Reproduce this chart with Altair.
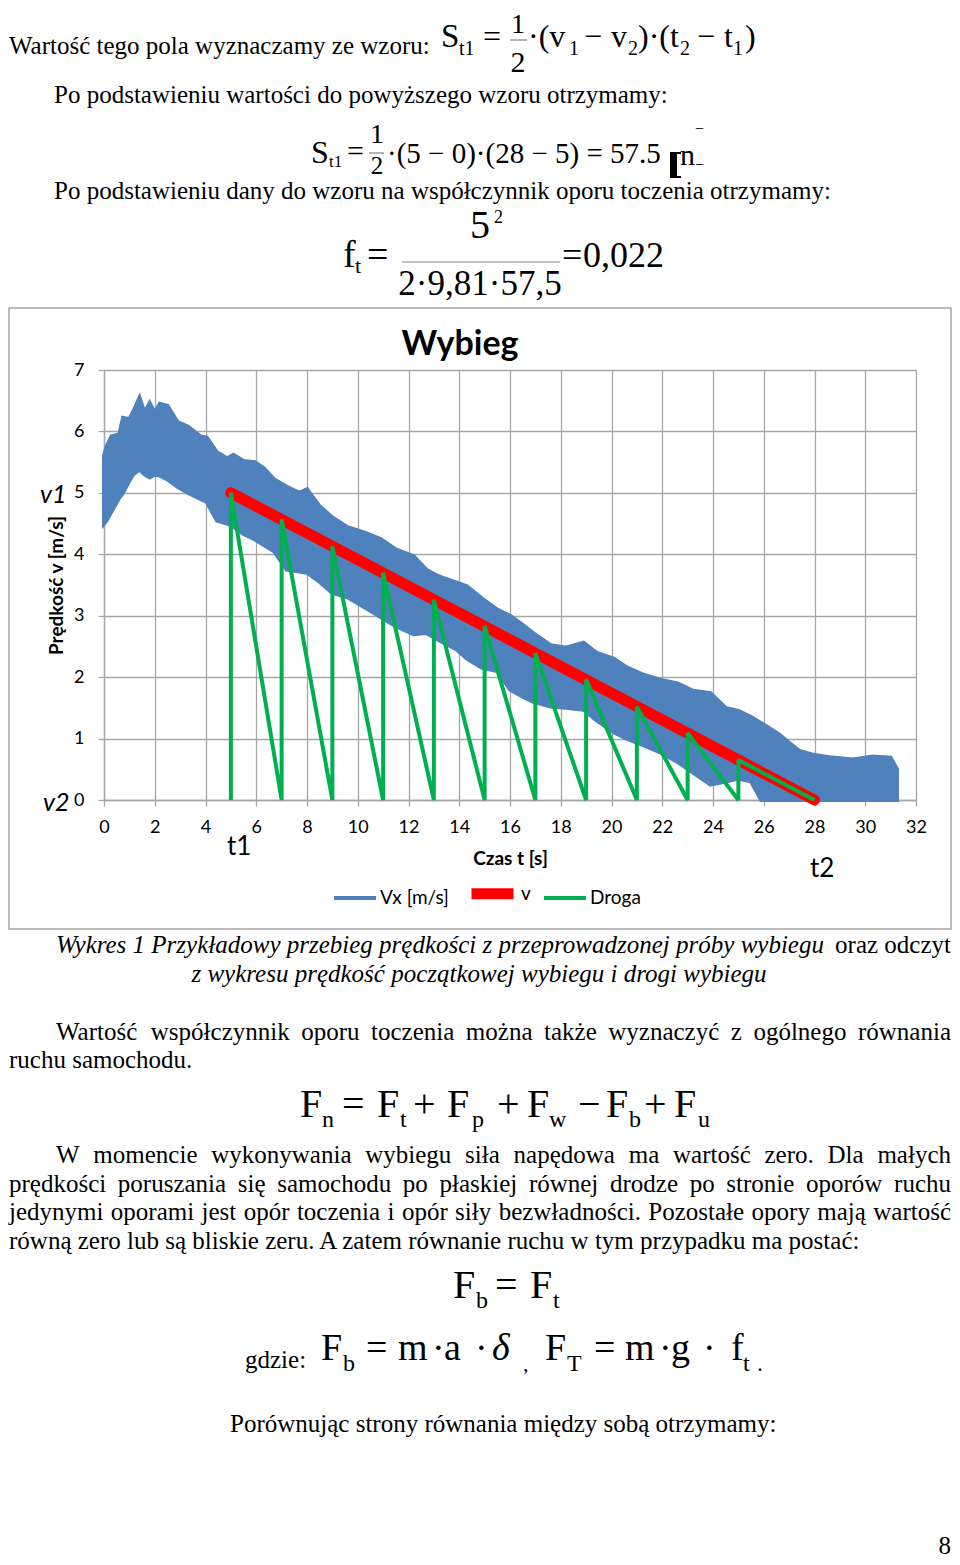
import altair as alt
import pandas as pd

# ---------------- chart data ----------------
vx_t = [0.0, 0.1, 0.3, 0.6, 0.75, 1.0, 1.15, 1.4, 1.6, 1.8, 2.0, 2.2, 2.5, 2.9, 3.3, 3.8,
        4.05, 4.45, 4.85, 5.1, 5.5, 5.95, 6.3, 6.7, 7.2, 7.7, 8.0, 8.5, 9.0, 9.6, 10.3,
        10.9, 11.5, 12.2, 12.7, 13.2, 13.9, 14.3, 14.9, 15.5, 16.0, 16.5, 16.9, 17.6,
        18.2, 18.9, 19.4, 20.1, 20.6, 21.2, 21.9, 22.6, 23.2, 23.9, 24.5, 25.0, 25.5,
        25.9, 26.1, 26.6, 27.0, 27.4, 27.9, 28.7, 29.5, 30.3, 31.0, 31.25]
vx_hi = [5.6, 5.75, 5.92, 5.95, 6.22, 6.2, 6.32, 6.55, 6.3, 6.46, 6.3, 6.45, 6.42, 6.15,
         6.08, 5.92, 5.9, 5.66, 5.56, 5.62, 5.52, 5.5, 5.4, 5.22, 5.1, 5.0, 5.06, 4.78,
         4.6, 4.44, 4.35, 4.25, 4.08, 3.97, 3.75, 3.64, 3.54, 3.48, 3.28, 3.1, 3.0, 2.85,
         2.72, 2.52, 2.48, 2.56, 2.4, 2.3, 2.16, 2.05, 1.96, 1.9, 1.78, 1.74, 1.5, 1.45,
         1.35, 1.25, 1.2, 1.07, 0.93, 0.8, 0.74, 0.69, 0.66, 0.71, 0.69, 0.5]
vx_lo = [4.5, 4.55, 4.7, 4.92, 5.0, 5.2, 5.3, 5.38, 5.3, 5.25, 5.3, 5.28, 5.22, 5.1, 5.0,
         4.9, 4.85, 4.55, 4.5, 4.45, 4.33, 4.24, 4.15, 4.05, 3.75, 3.72, 3.7, 3.55, 3.37,
         3.3, 3.13, 2.98, 2.83, 2.7, 2.72, 2.6, 2.45, 2.3, 2.15, 2.1, 1.8, 1.68, 1.6, 1.52,
         1.5, 1.47, 1.3, 1.1, 1.0, 0.9, 0.78, 0.62, 0.45, 0.25, 0.3, 0.35, 0.3, 0.0, 0.0,
         0.0, 0.0, 0.0, 0.0, 0.0, 0.0, 0.0, 0.0, 0.0]

v_t = [5, 28]
v_val = [5.0, 0.0]

droga_t = [5, 5, 7, 7, 9, 9, 11, 11, 13, 13, 15, 15, 17, 17, 19, 19, 21, 21, 23, 23, 25, 25, 28]
droga_v = [0, 5.0, 0, 4.57, 0, 4.13, 0, 3.70, 0, 3.26, 0, 2.83, 0, 2.39, 0, 1.96, 0, 1.52,
           0, 1.09, 0, 0.65, 0]

x_ticks = list(range(0, 33, 2))
y_ticks = list(range(0, 8))
series_names = ["Vx [m/s]", "v", "Droga"]
series_colors = ["#4F81BD", "#FF0000", "#00B050"]
series_widths = [4, 11, 4]

# ---------------- layout constants ----------------
OX, OY = 104, 370          # page position of the plot origin (top-left)
PW, PH = 812, 430
SERIF = "Liberation Serif"
SANS = "Lato"
GRID = "#a6a6a6"
LEFT, RIGHT = 9, 951       # usable text margins on the page

one = pd.DataFrame({"k": [0]})


def T(px, py, s, size=25, font=SERIF, style="normal", weight="normal",
      align="left", color="black", angle=0):
    return alt.Chart(one).mark_text(
        text=s, font=font, fontSize=size, fontStyle=style, fontWeight=weight,
        align=align, baseline="alphabetic", color=color, angle=angle
    ).encode(x=alt.value(px - OX), y=alt.value(py - OY))


def R(px1, px2, py, color="#808080", w=1.2):
    return alt.Chart(one).mark_rule(color=color, strokeWidth=w).encode(
        x=alt.value(px1 - OX), x2=alt.value(px2 - OX), y=alt.value(py - OY))


def BOX(px1, px2, py1, py2, color="black"):
    return alt.Chart(one).mark_rect(color=color).encode(
        x=alt.value(px1 - OX), x2=alt.value(px2 - OX),
        y=alt.value(py1 - OY), y2=alt.value(py2 - OY))


TW = {' ': 250, '.': 250, ',': 250, ':': 278, ';': 278, '-': 333, '(': 333, ')': 333,
      'A': 722, 'B': 667, 'C': 667, 'D': 722, 'E': 611, 'F': 556, 'G': 722, 'H': 722,
      'I': 333, 'J': 389, 'K': 722, 'L': 611, 'M': 889, 'N': 722, 'O': 722, 'P': 556,
      'R': 667, 'S': 556, 'T': 611, 'U': 722, 'W': 944, 'Z': 611,
      'a': 444, 'b': 500, 'c': 444, 'd': 500, 'e': 444, 'f': 333, 'g': 500, 'h': 500,
      'i': 278, 'j': 278, 'k': 500, 'l': 278, 'm': 778, 'n': 500, 'o': 500, 'p': 500,
      'r': 333, 's': 389, 't': 278, 'u': 500, 'w': 722, 'y': 500, 'z': 444,
      'ą': 444, 'ć': 444, 'ę': 444, 'ł': 278, 'ń': 500, 'ó': 500, 'ś': 389, 'ź': 444,
      'ż': 444}


def tw(s, size):
    return sum(TW.get(c, 500) for c in s) * size / 1000.0


def justify(line, x0, x1, py, size=25, style="normal"):
    words = line.split(" ")
    widths = [tw(w, size) for w in words]
    gap = (x1 - x0 - sum(widths)) / (len(words) - 1)
    out = []
    x = x0
    for i, (w, wd) in enumerate(zip(words, widths)):
        if i == len(words) - 1:
            out.append(T(x1, py, w, size, style=style, align="right"))
        else:
            out.append(T(x, py, w, size, style=style))
        x += wd + gap
    return out


# ---------------- chart layers ----------------
vx_df = pd.DataFrame({"t": vx_t, "hi": vx_hi, "lo": vx_lo, "series": series_names[0]})
v_df = pd.DataFrame({"t": v_t, "v": v_val, "series": series_names[1]})
dr_df = pd.DataFrame({"t": droga_t, "v": droga_v, "series": series_names[2],
                      "ord": list(range(len(droga_t)))})

x_enc = alt.X("t:Q", scale=alt.Scale(domain=[0, 32], nice=False, zero=False),
              axis=alt.Axis(values=x_ticks, title="Czas t [s]", titleX=406, titleY=58,
                            format="d", titleBaseline="middle", titleAlign="center",
                            labelPadding=12, labelFlush=False, labelOverlap=False))
y_axis = alt.Axis(values=y_ticks, title="Prędkość v [m/s]", titleX=-48, titleY=215,
                  format="d", titleAngle=270, titleBaseline="middle", titleAlign="center",
                  labelPadding=14, labelOverlap=False, labelFlush=False)
y_scale = alt.Scale(domain=[0, 7], nice=False)

legend = alt.Legend(
    title=None, orient="none", legendX=228, legendY=497, direction="horizontal",
    symbolType="stroke", symbolSize=1764, gridAlign="each",
    labelFont=SANS, labelFontSize=19, labelColor="black", labelOffset=2,
    columnPadding=0,
)
stroke_enc = alt.Stroke("series:N", scale=alt.Scale(domain=series_names, range=series_colors),
                        legend=legend)
width_enc = alt.StrokeWidth("series:N",
                            scale=alt.Scale(type="ordinal", domain=series_names,
                                            range=series_widths),
                            legend=legend)

area = alt.Chart(vx_df).mark_area(fill="#4F81BD", opacity=1, interpolate="linear").encode(
    x=x_enc, y=alt.Y("hi:Q", scale=y_scale, axis=y_axis), y2="lo:Q",
    stroke=stroke_enc, strokeWidth=width_enc)

red = alt.Chart(v_df).mark_line(strokeCap="round").encode(
    x="t:Q", y="v:Q", stroke=stroke_enc, strokeWidth=width_enc)

green = alt.Chart(dr_df).mark_line(strokeJoin="bevel").encode(
    x="t:Q", y="v:Q", order="ord:Q", stroke=stroke_enc, strokeWidth=width_enc)

border = alt.Chart(one).mark_rect(filled=False, stroke=GRID, strokeWidth=1.5).encode(
    x=alt.value(9 - OX), x2=alt.value(951 - OX), y=alt.value(308 - OY), y2=alt.value(929 - OY))

layers = [border, area, red, green]

# chart annotations
layers += [
    T(460, 355, "Wybieg", 34, font=SANS, weight="bold", align="center"),
    T(40, 503, "v1", 25, font=SANS, style="italic"),
    T(43, 811, "v2", 25, font=SANS, style="italic"),
    T(227, 855, "t1", 26, font=SANS),
    T(810, 877, "t2", 26, font=SANS),
]

# ---------------- document text above the chart ----------------
layers += [
    T(LEFT, 54, "Wartość tego pola wyznaczamy ze wzoru:", 25),
    T(441, 47, "S", 33), T(459, 55, "t1", 20),
    T(483, 47, "=", 32),
    T(518, 33, "1", 28, align="center"), R(510, 527, 40), T(518, 72, "2", 30, align="center"),
    T(528, 47, "·(v", 32), T(569, 55, "1", 20),
    T(584, 47, "−", 32), T(611, 47, "v", 32), T(628, 55, "2", 20),
    T(638, 47, ")·(t", 32), T(680, 55, "2", 20),
    T(697, 47, "−", 32), T(724, 47, "t", 32), T(733, 55, "1", 20), T(745, 47, ")", 32),

    T(54, 103, "Po podstawieniu wartości do powyższego wzoru otrzymamy:", 25),
    T(311, 163, "S", 32), T(329, 167, "t1", 17), T(347, 161, "=", 30),
    T(377, 143, "1", 28, align="center"), R(369, 384, 153), T(377, 174, "2", 25, align="center"),
    T(387, 163, "·(5 − 0)·(28 − 5) = 57.5", 29),
    BOX(670, 677, 152, 178), BOX(677, 681, 152, 154), BOX(677, 681, 176, 178),
    T(680, 165, "n", 30),
    T(695, 134, "−", 16), T(695, 170, "−", 16),

    T(54, 199, "Po podstawieniu dany do wzoru na współczynnik oporu toczenia otrzymamy:", 25),
    T(343, 267, "f", 38), T(355, 273, "t", 22), T(367, 267, "=", 38),
    T(480, 238, "5", 40, align="center"), T(494, 223, "2", 18),
    R(402, 560, 262), T(480, 295, "2·9,81·57,5", 35, align="center"),
    T(562, 267, "=", 36), T(583, 267, "0,022", 36),
]

# ---------------- document text below the chart ----------------
layers += [
    T(56, 953, "Wykres 1 Przykładowy przebieg prędkości z przeprowadzonej próby wybiegu", 25,
      style="italic"),
    T(RIGHT, 953, "oraz odczyt", 25, align="right"),
    T(479, 982, "z wykresu prędkość początkowej wybiegu i drogi wybiegu", 25,
      style="italic", align="center"),
]
layers += justify("Wartość współczynnik oporu toczenia można także wyznaczyć z ogólnego równania",
                  56, RIGHT, 1040)
layers += [T(LEFT, 1068, "ruchu samochodu.", 25)]

# F_n = F_t + F_p + F_w - F_b + F_u
layers += [
    T(300, 1117, "F", 40), T(322, 1127, "n", 24), T(342, 1117, "=", 40),
    T(377, 1117, "F", 40), T(400, 1127, "t", 24), T(413, 1117, "+", 40),
    T(447, 1117, "F", 40), T(472, 1127, "p", 24), T(497, 1117, "+", 40),
    T(527, 1117, "F", 40), T(549, 1127, "w", 24), T(578, 1117, "−", 40),
    T(606, 1117, "F", 40), T(629, 1127, "b", 24), T(644, 1117, "+", 40),
    T(674, 1117, "F", 40), T(698, 1127, "u", 24),
]

layers += justify("W momencie wykonywania wybiegu siła napędowa ma wartość zero. Dla małych",
                  56, RIGHT, 1163)
layers += justify("prędkości poruszania się samochodu po płaskiej równej drodze po stronie oporów ruchu",
                  LEFT, RIGHT, 1192)
layers += justify("jedynymi oporami jest opór toczenia i opór siły bezwładności. Pozostałe opory mają wartość",
                  LEFT, RIGHT, 1220)
layers += [T(LEFT, 1249, "równą zero lub są bliskie zeru. A zatem równanie ruchu w tym przypadku ma postać:", 25)]

# F_b = F_t
layers += [
    T(453, 1298, "F", 40), T(476, 1308, "b", 24), T(495, 1298, "=", 40),
    T(530, 1298, "F", 40), T(553, 1308, "t", 24),
]

# gdzie: F_b = m·a·δ , F_T = m·g·f_t .
layers += [
    T(245, 1368, "gdzie:", 25),
    T(321, 1360, "F", 38), T(343, 1371, "b", 24), T(366, 1360, "=", 38),
    T(398, 1360, "m", 38), T(432, 1360, "·", 38), T(444, 1360, "a", 38),
    T(475, 1360, "·", 38), T(492, 1360, "δ", 38, style="italic"),
    T(523, 1371, ",", 22),
    T(545, 1360, "F", 38), T(567, 1371, "T", 24), T(594, 1360, "=", 38),
    T(625, 1360, "m", 38), T(659, 1360, "·", 38), T(671, 1360, "g", 38),
    T(703, 1360, "·", 38), T(731, 1360, "f", 38), T(743, 1371, "t", 24),
    T(757, 1371, ".", 24),
    T(230, 1432, "Porównując strony równania między sobą otrzymamy:", 25),
    T(RIGHT, 1554, "8", 25, align="right"),
]

chart = alt.layer(*layers).properties(
    width=PW, height=PH,
    autosize=alt.AutoSizeParams(type="none"),
    padding={"left": OX - 8, "top": OY - 8, "right": 944 - (OX - 8) - PW,
             "bottom": 1552 - (OY - 8) - PH},
    background="white",
).configure_view(stroke=None).configure_axis(
    gridColor=GRID, gridWidth=1.3, domainColor=GRID, domainWidth=1.3,
    tickColor=GRID, tickSize=6, tickWidth=1.3,
    labelFont=SANS, labelFontSize=18, labelColor="black",
    titleFont=SANS, titleFontSize=19, titleFontWeight="bold", titleColor="black",
)

chart.save("out.html", embed_options={"renderer": "svg", "actions": False})
